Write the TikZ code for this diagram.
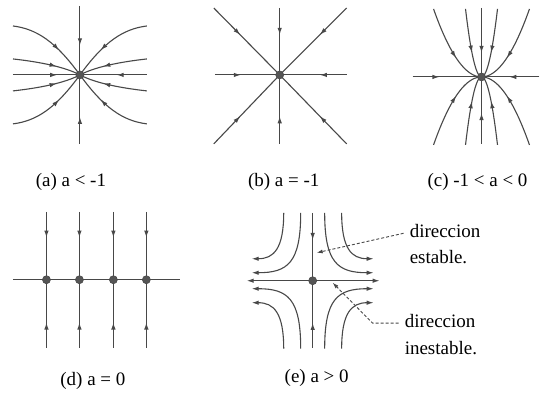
\documentclass[tikz,border=0pt]{standalone}
\usepackage{fontspec}
\setmainfont{Liberation Serif}
\usetikzlibrary{arrows.meta, positioning, decorations.markings}
\definecolor{flowline}{HTML}{484848}
\definecolor{eqdot}{HTML}{555555}
\tikzset{
  flow/.style={
    draw=flowline,
    line width=1.1pt
  },
  midarrow/.style={
    postaction={decorate, decoration={markings,
      mark=at position #1 with {\arrow{Latex[length=7pt, width=4.5pt]}}}}
  },
  endarrow/.style={
    -{Latex[length=7pt, width=4.5pt]}
  },
  eqpoint/.style={
    circle,
    fill=eqdot,
    draw=flowline,
    line width=0.6pt,
    inner sep=0pt,
    minimum size=8pt
  },
  caption/.style={
    font=\fontsize{19}{23}\selectfont,
    inner sep=0pt,
    anchor=base
  },
  lbl/.style={
    font=\fontsize{19}{23}\selectfont,
    inner xsep=6pt,
    inner ysep=0pt,
    text height=13pt,
    text depth=4pt,
    anchor=west
  },
  pointer/.style={
    draw=flowline,
    line width=0.9pt,
    dash pattern=on 3pt off 2pt,
    -{Latex[length=6pt, width=4pt]}
  }
}

\begin{document}
\begin{tikzpicture}[x=1pt, y=-1pt]

  \fill [white] (0,0) rectangle (540,394);

  % ==================== (a) a < -1 ====================
  \coordinate (pa) at (80,75);
  \begin{scope}[shift={(pa)}]
    \foreach \sx/\sy in {-1/-1, 1/-1, -1/1, 1/1} {
      \draw [flow, midarrow=0.62] (\sx*67,\sy*49) .. controls (\sx*43,\sy*46) and (\sx*24,\sy*33) .. (0,0);
      \draw [flow, midarrow=0.64] (\sx*67,\sy*16) .. controls (\sx*40,\sy*13) and (\sx*15,\sy*8) .. (0,0);
    }
    \draw [flow, midarrow=0.66] (-67,0) -- (0,0);
    \draw [flow, midarrow=0.45] (67,0) -- (0,0);
    \draw [flow, midarrow=0.57] (0,-69) -- (0,0);
    \draw [flow, midarrow=0.39] (0,69) -- (0,0);
  \end{scope}
  \node (dota) [eqpoint] at (pa) {};
  \node (capa) [caption] at (71,187) {(a) a < -1};

  % ==================== (b) a = -1 ====================
  \coordinate (pb) at (280,75);
  \begin{scope}[shift={(pb)}]
    \foreach \dx/\dy in {-65/0, 67/0, 0/-67, 0/69, -66/-67, 67/-67, -66/69, 67/69} {
      \draw [flow, midarrow=0.4] (\dx,\dy) -- (0,0);
    }
  \end{scope}
  \node (dotb) [eqpoint] at (pb) {};
  \node (capb) [caption] at (284,187) {(b) a = -1};

  % ==================== (c) -1 < a < 0 ====================
  \coordinate (pc) at (482,77);
  \begin{scope}[shift={(pc)}]
    \foreach \k in {5.82, 1.94} {
      \foreach \sx/\sy in {-1/-1, 1/-1, -1/1, 1/1} {
        \draw [flow, midarrow=0.62] plot[variable=\s, domain=8.25:0, samples=30] ({\sx*\k*\s}, {\sy*\s*\s});
      }
    }
    \draw [flow, midarrow=0.39] (-69,0) -- (0,0);
    \draw [flow, midarrow=0.52] (58,0) -- (0,0);
    \draw [flow, midarrow=0.65] (0,-69) -- (0,0);
    \draw [flow, midarrow=0.46] (0,67) -- (0,0);
  \end{scope}
  \node (dotc) [eqpoint] at (pc) {};
  \node (capc) [caption] at (478,187) {(c) -1 < a < 0};

  % ==================== (d) a = 0 ====================
  \draw [flow] (13,280) -- (180,280);
  \foreach \x [count=\i] in {46.5,79.5,113.5,146.5} {
    \coordinate (pd\i) at (\x,280);
    \draw [flow, midarrow=0.38] (\x,212) -- (pd\i);
    \draw [flow, midarrow=0.37] (\x,348) -- (pd\i);
    \node (dotd\i) [eqpoint] at (pd\i) {};
  }
  \node (capd) [caption] at (93,386) {(d) a = 0};

  % ==================== (e) a > 0 ====================
  \coordinate (pe) at (313,281);
  \begin{scope}[shift={(pe)}]
    \draw [flow, midarrow=0.4] (0,-68) -- (0,0);
    \draw [flow, midarrow=0.37] (0,67) -- (0,0);
    \draw [flow, endarrow] (0,0) -- (-66,0);
    \draw [flow, endarrow] (0,0) -- (67,0);
    \foreach \sx/\sy/\nx/\ny in {-1/-1/1/1, 1/-1/-1/1, -1/1/1/-1, 1/1/-1/-1} {
      \draw [flow, endarrow] (\sx*12,\sy*68) .. controls +(0,\ny*50) and +(\nx*36,0) .. (\sx*61,\sy*8);
      \draw [flow, endarrow] (\sx*29,\sy*68) .. controls +(0,\ny*36) and +(\nx*22,0) .. (\sx*61,\sy*22);
    }
  \end{scope}
  \node (dote) [eqpoint] at (pe) {};
  \node (cape) [caption] at (317,383) {(e) a > 0};

  % labels
  \coordinate (esttip) at (317,253);
  \coordinate (instip) at (333,283);
  \node (est1) [lbl] at (404,233.5) {direccion};
  \node (est2) [lbl, below=8pt of est1.south west, anchor=north west] {estable.};
  \node (ins1) [lbl] at (399,323.5) {direccion};
  \node (ins2) [lbl, below=9pt of ins1.south west, anchor=north west] {inestable.};

  \draw [pointer] (est1.west) -- (esttip);
  \draw [pointer] (ins1.west) -- ++(-26,0) -- (instip);

\end{tikzpicture}
\end{document}
